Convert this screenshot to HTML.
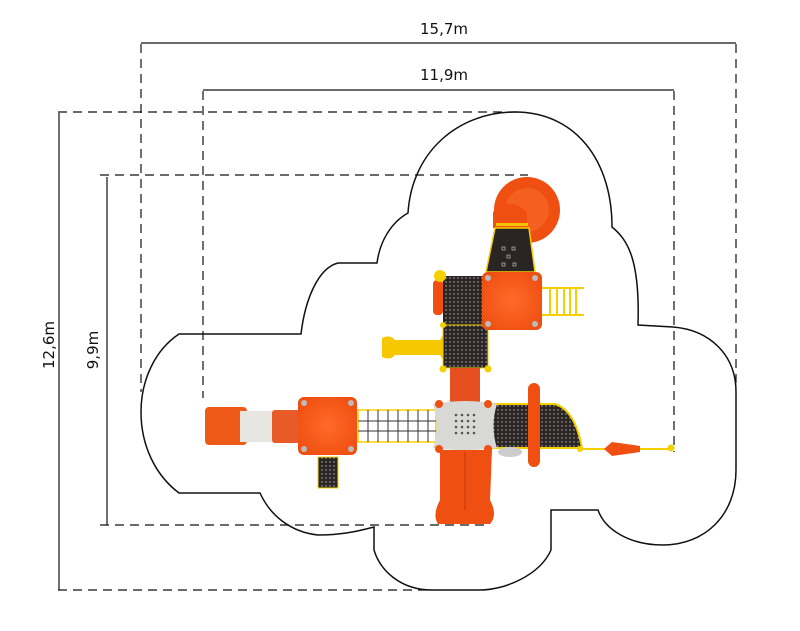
<!DOCTYPE html>
<html><head><meta charset="utf-8"><style>
html,body{margin:0;padding:0;background:#fff;width:800px;height:631px;overflow:hidden}
svg{display:block}
text{font-family:"DejaVu Sans","Liberation Sans",sans-serif;font-size:15px;fill:#111}
</style></head><body>
<svg width="800" height="631" viewBox="0 0 800 631" xmlns="http://www.w3.org/2000/svg">
<defs>
<pattern id="dots" width="4" height="4" patternUnits="userSpaceOnUse"><rect width="4" height="4" fill="#2a2424"/><circle cx="2" cy="2" r="0.7" fill="#bbb"/></pattern>
<radialGradient id="og" cx="50%" cy="50%" r="60%"><stop offset="0" stop-color="#ff6a2a"/><stop offset="1" stop-color="#ef4f10"/></radialGradient>
</defs>
<!-- dashed rects -->
<g stroke="#111" stroke-width="1.2" stroke-dasharray="9,6" fill="none">
<line x1="141" y1="44" x2="141" y2="392"/>
<line x1="736" y1="44" x2="736" y2="388"/>
<line x1="58" y1="112" x2="520" y2="112"/>
<line x1="58" y1="590" x2="432" y2="590"/>
<line x1="203" y1="91" x2="203" y2="398"/>
<line x1="674" y1="91" x2="674" y2="452"/>
<line x1="100" y1="175" x2="528" y2="175"/>
<line x1="100" y1="525" x2="490" y2="525"/>
</g>
<!-- dimension lines -->
<g stroke="#111" stroke-width="1.2" fill="none">
<line x1="141" y1="43" x2="736" y2="43"/>
<line x1="203" y1="90" x2="674" y2="90"/>
<line x1="59" y1="113" x2="59" y2="590"/>
<line x1="107" y1="177" x2="107" y2="525"/>
</g>
<text x="444" y="34" text-anchor="middle">15,7m</text>
<text x="444" y="80" text-anchor="middle">11,9m</text>
<text transform="translate(54,345) rotate(-90)" text-anchor="middle">12,6m</text>
<text transform="translate(98,350) rotate(-90)" text-anchor="middle">9,9m</text>
<!-- outline -->
<path d="M301,334 C305,300 318,268 338,263 L377,263 C380,240 392,222 408,213 C412,150 460,112 515,112 C575,112 612,160 612,227 C628,240 640,260 638,325 L673,327 C710,330 736,355 736,392 L736,470 C736,515 705,545 663,545 C630,545 605,530 598,510 L551,510 L551,550 C540,575 505,590 480,590 L432,590 C400,590 380,570 374,550 L374,527 C355,532 340,535 318,535 C290,532 270,515 260,493 L179,493 C155,475 141,445 141,412 C141,380 155,350 179,334 Z" fill="none" stroke="#111" stroke-width="1.5"/>
<!-- top disc -->
<circle cx="527" cy="210" r="33" fill="#ef4f10"/>
<circle cx="527" cy="210" r="22" fill="#f56020"/>
<path d="M493,228 L493,212 Q510,196 527,212 L527,228 Z" fill="#ef4f10"/>
<rect x="496" y="223" width="32" height="3" fill="#f5c400"/>
<!-- dark trapezoid -->
<path d="M495,228 L529,228 L535,272 L486,272 Z" fill="#2a2424" stroke="#f5d000" stroke-width="1.5"/>
<g fill="none" stroke="#aaa" stroke-width="0.8"><rect x="502" y="247" width="3" height="3"/><rect x="512" y="247" width="3" height="3"/><rect x="507" y="255" width="3" height="3"/><rect x="502" y="263" width="3" height="3"/><rect x="513" y="263" width="3" height="3"/></g>
<!-- ladder right -->
<g stroke="#f5d000" stroke-width="2" fill="none"><line x1="542" y1="288" x2="584" y2="288"/><line x1="542" y1="315" x2="584" y2="315"/><line x1="550" y1="288" x2="550" y2="315"/><line x1="557" y1="288" x2="557" y2="315"/><line x1="564" y1="288" x2="564" y2="315"/><line x1="570" y1="288" x2="570" y2="315"/><line x1="576" y1="288" x2="576" y2="315"/></g>
<!-- dark squares -->
<rect x="443" y="276" width="40" height="50" fill="url(#dots)"/>
<rect x="443" y="325" width="45" height="43" fill="url(#dots)" stroke="#f5d000" stroke-width="1"/>
<rect x="433" y="280" width="10" height="35" rx="4" fill="#ef4f10"/>
<circle cx="440" cy="276" r="6" fill="#f5d000"/>
<!-- yellow slide left -->
<path d="M382,338 Q390,334 395,340 L440,340 L443,335 L443,360 L440,355 L395,355 Q390,361 382,357 Z" fill="#f5c800"/>
<circle cx="443" cy="325" r="3" fill="#f5d000"/><circle cx="443" cy="369" r="3.5" fill="#f5d000"/><circle cx="488" cy="369" r="3.5" fill="#f5d000"/>
<!-- orange square top -->
<rect x="482" y="272" width="60" height="58" rx="6" fill="url(#og)"/>
<g fill="#bbb"><circle cx="488" cy="278" r="3"/><circle cx="535" cy="278" r="3"/><circle cx="488" cy="324" r="3"/><circle cx="535" cy="324" r="3"/></g>
<!-- orange pole -->
<rect x="450" y="368" width="30" height="36" fill="#e65020"/>
<!-- left tunnel -->
<rect x="205" y="407" width="42" height="38" rx="4" fill="#f05a18"/>
<rect x="240" y="411" width="34" height="31" fill="#e8e6e2"/>
<rect x="272" y="410" width="28" height="33" rx="3" fill="#e85a28"/>
<!-- orange square 2 -->
<rect x="298" y="397" width="59" height="58" rx="6" fill="url(#og)"/>
<g fill="#bbb"><circle cx="304" cy="403" r="3"/><circle cx="351" cy="403" r="3"/><circle cx="304" cy="449" r="3"/><circle cx="351" cy="449" r="3"/></g>
<rect x="318" y="457" width="20" height="31" fill="url(#dots)" stroke="#f5d000" stroke-width="1"/>
<!-- net -->
<g stroke="#333" stroke-width="1" fill="none">
<rect x="358" y="410" width="78" height="32" stroke="#f5d000" stroke-width="1.5"/>
<line x1="358" y1="421" x2="436" y2="421"/><line x1="358" y1="431" x2="436" y2="431"/>
<line x1="368" y1="410" x2="368" y2="442"/><line x1="378" y1="410" x2="378" y2="442"/><line x1="388" y1="410" x2="388" y2="442"/><line x1="398" y1="410" x2="398" y2="442"/><line x1="408" y1="410" x2="408" y2="442"/><line x1="418" y1="410" x2="418" y2="442"/><line x1="428" y1="410" x2="428" y2="442"/>
</g>
<!-- right deck -->
<path d="M490,404 L555,404 Q575,410 582,448 L490,448 Z" fill="url(#dots)" stroke="#f5d000" stroke-width="2"/>
<ellipse cx="510" cy="452" rx="12" ry="5" fill="#ccc"/>
<rect x="528" y="383" width="12" height="84" rx="6" fill="#ef4f10"/>
<!-- rod -->
<line x1="580" y1="449" x2="672" y2="449" stroke="#f5d000" stroke-width="2"/>
<circle cx="580" cy="449" r="3" fill="#f5d000"/><circle cx="671" cy="448" r="3.5" fill="#f5d000"/>
<path d="M604,449 L612,442 L640,446 L640,452 L612,456 Z" fill="#ef4f10"/>
<!-- grey box -->
<path d="M433,404 Q465,398 497,404 Q490,426 497,448 Q465,452 433,448 Q440,426 433,404 Z" fill="#d8d8d6"/>
<g fill="#555"><circle cx="456" cy="415" r="1.3"/><circle cx="462" cy="415" r="1.3"/><circle cx="468" cy="415" r="1.3"/><circle cx="474" cy="415" r="1.3"/><circle cx="456" cy="421" r="1.3"/><circle cx="462" cy="421" r="1.3"/><circle cx="468" cy="421" r="1.3"/><circle cx="474" cy="421" r="1.3"/><circle cx="456" cy="427" r="1.3"/><circle cx="462" cy="427" r="1.3"/><circle cx="468" cy="427" r="1.3"/><circle cx="474" cy="427" r="1.3"/><circle cx="456" cy="433" r="1.3"/><circle cx="462" cy="433" r="1.3"/><circle cx="468" cy="433" r="1.3"/><circle cx="474" cy="433" r="1.3"/></g>
<g fill="#ef4f10"><circle cx="439" cy="404" r="4"/><circle cx="488" cy="404" r="4"/><circle cx="439" cy="449" r="4"/><circle cx="488" cy="449" r="4"/></g>
<!-- slide down -->
<path d="M440,450 L492,450 L490,500 Q498,515 490,524 L438,524 Q432,515 440,500 Z" fill="#ef4f10"/>
<line x1="465" y1="452" x2="465" y2="510" stroke="#d84410" stroke-width="2"/>
</svg>
</body></html>
